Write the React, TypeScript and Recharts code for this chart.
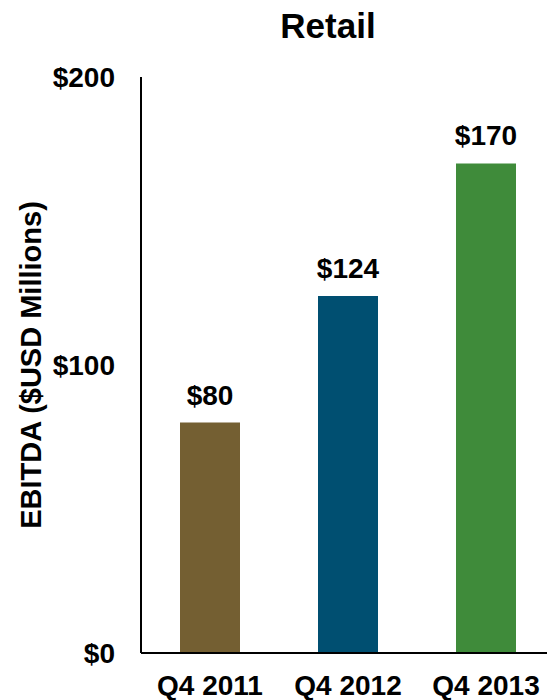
import { BarChart, Bar, XAxis, YAxis, Cell, LabelList } from "recharts";

const FONT = "'Liberation Sans', Arial, sans-serif";

const quarters = ["Q4 2011", "Q4 2012", "Q4 2013"];
const ebitda = [80, 124, 170];
const barColors = ["#745f32", "#004f71", "#3f8b3a"];
const yTicks = [0, 100, 200];

const data = quarters.map((q, i) => ({ name: q, value: ebitda[i] }));

const TICK = { fontSize: 28, fontWeight: 700, fill: "#000", fontFamily: FONT };

/* rotated axis title, drawn beside the $ ticks */
function YTitle() {
  return (
    <text
      x={31} y={365} transform="rotate(-90, 31, 365)"
      textAnchor="middle" dominantBaseline="central"
      fontSize={29} fontWeight={700} fontFamily={FONT} fill="#000"
    >
      EBITDA ($USD Millions)
    </text>
  );
}

export default function App() {
  return (
    <div style={{ position: "absolute", left: 0, top: 0, width: 547, height: 700, overflow: "hidden", background: "#fff" }}>
      <div
        style={{
          position: "absolute", left: 0, top: 6, width: 656, textAlign: "center",
          fontFamily: FONT, fontWeight: 700, fontSize: 35, lineHeight: "40px", color: "#000",
        }}
      >
        Retail
      </div>
      <BarChart width={559} height={700} data={data} margin={{ top: 77, right: 4, left: 0, bottom: 17 }}>
        <XAxis
          dataKey="name" height={30} tick={TICK} tickLine={false} tickSize={0} tickMargin={22}
          axisLine={{ stroke: "#000", strokeWidth: 2 }}
        />
        <YAxis
          domain={[0, 200]} ticks={yTicks} width={141} tick={TICK} tickLine={false}
          tickSize={0} tickMargin={26} tickFormatter={(v: number) => `$${v}`}
          axisLine={{ stroke: "#000", strokeWidth: 2 }}
          label={<YTitle />}
        />
        <Bar dataKey="value" barSize={60} isAnimationActive={false}>
          {data.map((_, i) => <Cell key={i} fill={barColors[i]} />)}
          <LabelList
            dataKey="value" position="top" offset={18}
            formatter={(v: number) => `$${v}`}
            style={{ fontSize: 28, fontWeight: 700, fill: "#000", fontFamily: FONT }}
          />
        </Bar>
      </BarChart>
    </div>
  );
}
